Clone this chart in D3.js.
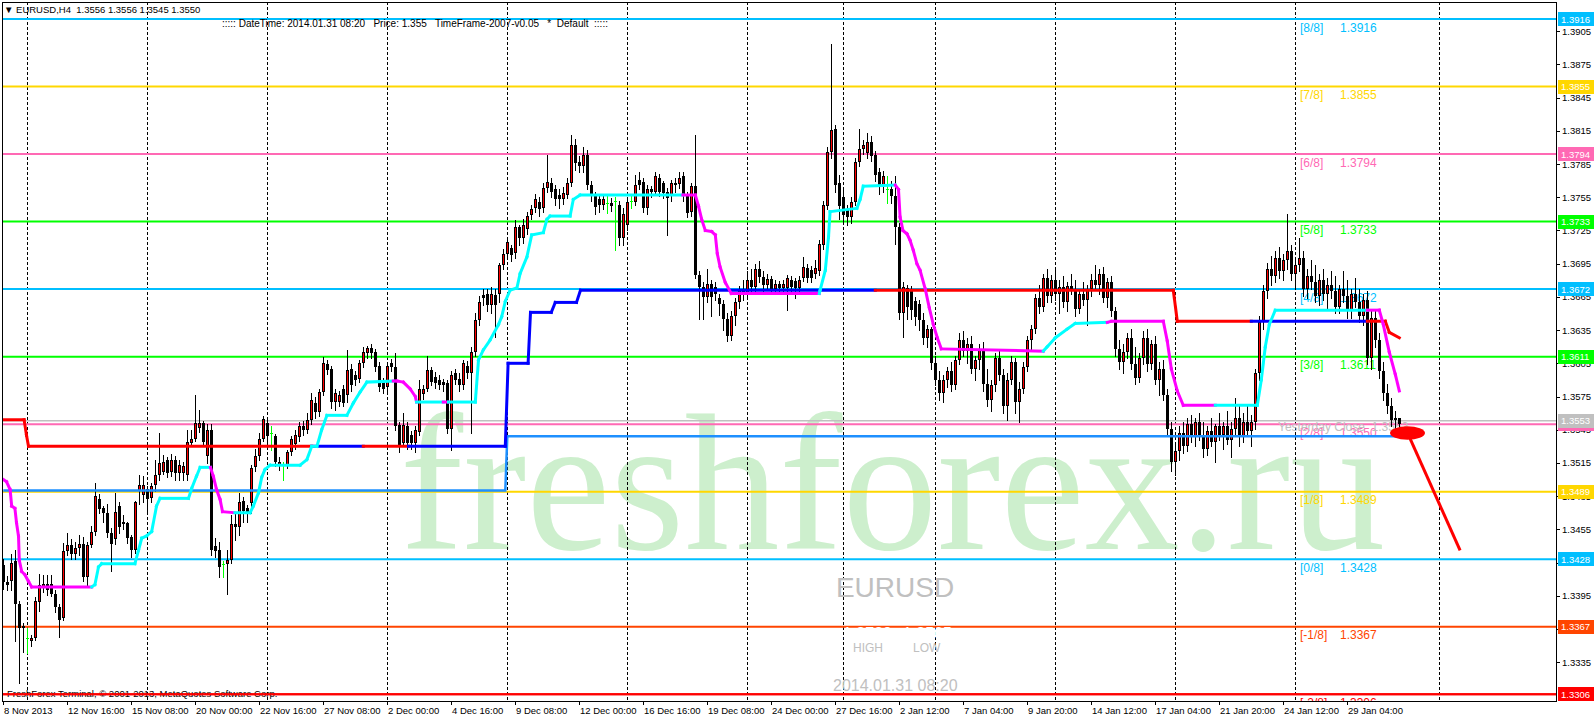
<!DOCTYPE html>
<html>
<head>
<meta charset="utf-8">
<script src="https://cdnjs.cloudflare.com/ajax/libs/d3/7.8.5/d3.min.js"></script>
<style>
  body { margin: 0; background: #fff; }
  svg { display: block; }
  text { font-family: "Liberation Sans", Arial, sans-serif; }
</style>
</head>
<body>
<svg id="chart"></svg>
<script>
// prices are stored as pips above 1.3000 (e.g. 550 -> 1.3550)
var opens = [
  423,407,408,426,388,366,357,354,357,389, 403,406,406,397,385,375,435,441,433,438,
  442,412,441,453,482,474,470,452,446,476, 460,461,448,436,490,486,491,483,495,504,
  507,518,507,518,506,506,504,533,537,547, 551,521,545,440,436,424,424,427,460,457,
  481,474,479,511,521,537,551,542,539,513, 514,512,525,532,538,548,545,554,569,561,
  579,604,600,570,570,582,576,600,594,591, 605,614,619,615,603,588,584,605,602,549,
  533,548,540,533,543,577,582,599,593,590, 588,587,546,596,591,585,603,596,615,644,
  667,668,658,667,668,694,704,709,705,728, 718,726,739,745,751,745,763,768,762,757,
  753,757,768,802,787,783,793,766,756,753, 748,750,750,752,748,718,730,752,751,771,
  769,745,762,760,772,768,760,756,768,767, 774,757,742,765,685,674,665,677,674,664,
  659,645,630,648,660,672,667,680,674,690, 683,676,681,672,677,673,673,680,679,673,
  682,691,689,686,688,712,747,796,817,768, 755,744,737,751,787,799,795,805,793,778,
  766,762,762,756,728,650,673,670,661,659, 644,628,636,605,590,578,590,598,585,608,
  626,616,622,600,608,618,586,572,585,610, 594,566,590,606,570,582,602,626,636,664,
  656,682,666,680,668,674,660,675,672,654, 668,662,672,680,676,686,664,678,652,618,
  606,615,628,604,592,610,628,604,622,590, 600,576,546,516,526,542,530,550,538,552,
  540,528,544,534,548,540,548,536,546,556, 538,552,544,552,596,642,670,690,684,700,
  688,698,706,686,694,700,672,684,678,666, 680,668,676,670,656,672,666,652,668,660,
  648,662,610,646,626,598,578,566,554,556
];
var highs = [
  428,413,433,436,390,370,366,360,394,415, 414,414,414,400,388,443,452,446,444,450,
  448,444,458,497,487,476,478,456,488,480, 468,462,450,481,504,503,494,497,518,542,
  522,520,523,521,518,516,545,545,576,563, 553,550,550,447,444,426,436,468,470,488,
  484,477,513,528,542,557,556,548,541,520, 516,527,539,545,552,553,560,578,575,582,
  611,608,603,582,580,585,617,604,598,608, 620,621,622,618,606,592,605,609,614,552,
  560,552,544,548,590,585,612,602,597,594, 591,590,598,600,596,608,607,620,650,666,
  672,672,674,672,696,708,718,712,734,730, 735,742,748,758,755,768,793,772,766,762,
  764,772,811,808,792,800,798,770,760,757, 758,756,754,755,752,745,754,758,775,778,
  772,766,765,778,776,770,763,771,772,778, 778,760,768,811,688,678,690,680,678,668,
  662,650,652,664,675,680,688,690,695,697, 688,686,684,680,679,680,685,684,682,684,
  701,695,693,698,716,752,800,893,820,775, 762,748,755,790,817,807,813,810,797,781,
  779,774,770,774,732,678,676,675,665,662, 650,640,638,612,598,594,602,606,612,632,
  634,628,630,612,622,624,600,590,614,618, 600,596,612,610,588,606,630,640,668,676,
  686,690,685,690,680,684,678,686,680,672, 678,676,686,694,690,692,682,684,656,626,
  622,632,636,620,614,634,636,626,630,606, 608,582,552,532,548,552,556,558,556,560,
  552,548,556,550,560,552,562,552,574,566, 560,566,558,600,648,676,696,702,706,710,
  704,740,712,698,718,706,690,698,694,686, 690,682,688,684,676,688,680,672,682,672,
  668,670,652,654,632,606,586,574,562,556
];
var lows = [
  401,400,400,354,316,344,343,350,355,381, 398,396,395,380,358,373,432,428,428,432,
  408,405,439,450,470,462,448,417,442,452, 455,443,430,434,478,480,470,480,490,500,
  505,502,503,500,500,500,500,530,535,543, 530,515,432,430,412,412,397,425,445,450,
  462,462,470,508,518,535,535,527,512,509, 500,510,522,528,535,540,542,550,556,557,
  576,595,565,563,566,566,570,580,585,588, 602,610,610,598,580,578,580,598,545,525,
  530,528,528,525,540,573,580,585,583,582, 580,542,527,586,580,582,592,542,612,640,
  658,652,650,629,660,690,700,697,700,712, 714,722,735,742,738,742,760,755,748,745,
  749,754,765,780,778,778,762,752,740,742, 744,741,743,707,712,712,725,745,748,762,
  742,740,755,757,756,754,721,752,760,763, 752,737,738,682,645,645,660,648,662,649,
  635,625,626,640,655,662,664,670,670,678, 670,672,668,668,669,670,653,670,664,669,
  679,678,678,682,685,708,744,790,760,735, 732,730,732,748,783,794,790,788,770,758,
  760,750,750,713,645,629,645,645,640,635, 622,620,600,585,572,570,584,580,582,604,
  612,605,596,590,600,580,566,562,580,590, 560,554,586,560,552,578,598,618,632,650,
  652,660,660,662,650,656,652,668,648,650, 658,640,666,672,668,660,656,648,612,600,
  596,610,600,586,588,604,598,600,586,576, 572,540,508,504,518,524,526,534,530,536,
  520,522,530,516,536,528,532,520,540,530, 534,540,530,546,590,636,664,676,678,682,
  680,690,680,672,688,666,664,672,660,658, 662,654,664,650,650,660,646,646,656,642,
  640,604,600,620,592,572,560,548,546,545
];
var closes = [
  407,405,425,388,366,368,357,357,390,405, 406,400,397,385,373,435,441,433,438,442,
  412,441,453,485,473,470,452,442,471,457, 462,447,436,480,495,495,482,494,504,515,
  516,506,518,506,513,512,534,537,551,551, 534,545,436,435,421,424,427,460,457,480,
  472,471,510,521,537,555,539,542,516,516, 514,525,537,540,548,545,554,572,561,579,
  605,599,570,578,576,569,599,585,590,605, 615,619,614,602,584,582,603,602,548,531,
  549,533,533,545,582,582,599,588,587,585, 585,546,594,590,585,605,596,615,644,660,
  664,658,668,658,694,704,715,703,728,718, 730,738,744,753,744,763,769,760,753,753,
  759,768,802,786,783,793,766,756,746,748, 753,750,747,752,718,740,751,752,766,766,
  745,762,760,774,760,759,754,768,766,772, 756,741,765,685,674,665,677,665,668,659,
  645,630,648,660,672,667,680,674,690,683, 676,681,672,677,673,677,682,674,673,680,
  692,682,682,691,713,748,796,816,766,747, 739,737,751,787,799,802,805,792,775,766,
  774,762,756,728,650,674,656,653,647,644, 628,636,605,590,578,590,598,585,608,626,
  616,622,600,608,618,586,572,585,610,594, 566,590,606,570,582,602,626,636,664,656,
  682,666,680,668,674,660,675,672,654,668, 662,672,680,676,686,664,678,652,618,606,
  615,628,604,592,610,628,604,622,590,600, 576,546,516,526,542,530,550,538,552,540,
  528,544,534,548,540,548,536,546,556,538, 552,544,552,596,642,670,690,684,700,688,
  698,706,686,694,700,672,684,678,666,680, 668,676,670,656,672,666,652,668,660,648,
  662,610,646,626,598,578,566,554,556,550
];

// trend line (cyan when up, magenta when down), vertices: bar, pips, up flag
var trendBars = [0,0.8,1.7,2.1,2.9,3.3,3.8,4.0,4.6,5.4,6.3,7.1,22.1,
  22.9,23.8,24.6,32.9,33.8,34.6,35.8,37.1,38.3,39.2,46.3,47.1,48.3,49.2,51.8,
  52.5,53.3,54.2,54.8,57.9,
  61.7,62.5,63.8,64.6,65.4,66.7,74.2,75.9,77.1,78.4,79.6,80.9,85.9,87.5,89.2,90.9,97.5,
  98.4,100,101.7,103,103.3,
  110,111.3,118,118.8,120,121.7,123.8,124.6,125.5,126.7,128.4,129.2,130.9,132.1,135,135.9,136.7,141.7,142.5,144.2,169.9,
  173,173.8,174.6,175.5,177.1,178,178.5,179.2,180.5,182,204,
  204.2,205.5,206.3,206.7,213.4,214.2,215,223,
  223.8,224.2,224.9,225.9,226.7,227.5,228.4,229.2,230.5,231.5,232.5,233.5,234.5,260,
  261,263,266,268,276,
  277,290,291,292,293.5,295,303,
  313.5,314.5,315.5,316.5,318,341,
  344,345,346.5,348,349];
var trendPips = [500,498,491,476,474,461,449,427,417,414,408,403,403,
  405,421,424,424,436,447,449,453,476,483,483,492,503,511,511,
  503,491,482,471,470,
  470,476,488,502,509,513,513,518,530,530,545,558,558,569,579,588,589,
  589,588,582,575,570,
  570,570,570,608,617,626,640,647,661,671,673,686,701,721,723,735,738,738,753,757,757,
  757,747,735,725,724,721,704,692,678,668,668,
  671,689,719,742,745,753,765,766,
  762,737,725,722,716,707,695,689,672,655,640,628,618,616,
  620,628,636,641,642,
  643,643,625,600,580,567,567,
  567,590,620,640,653,653,
  653,640,615,595,580];
var trendUp = [0,0,0,0,0,0,0,0,0,0,0,0,0,
  1,1,1,1,1,1,1,1,1,1,1,1,1,1,1,
  0,0,0,0,0,
  1,1,1,1,1,1,1,1,1,1,1,1,1,1,1,1,1,
  0,0,0,0,0,
  1,0,1,1,1,1,1,1,1,1,1,1,1,1,1,1,1,1,1,1,1,
  0,0,0,0,0,0,0,0,0,0,0,
  1,1,1,1,1,1,1,1,
  0,0,0,0,0,0,0,0,0,0,0,0,0,0,
  1,1,1,1,1,
  0,0,0,0,0,0,0,
  1,1,1,1,1,1,
  0,0,0,0,0];

// slow stop line (red / blue)
var stopBars = [0,5.2,5.8,6.3,77.1,90,101.3,125.5,126.2,131.2,131.8,137,138,143.3,144.3,218,292.5,293.5,312,341,345.5,346.5,349];
var stopPips = [554,554,540,530,530,530,530,530,605,605,651,651,660,660,671,671,671,643,643,643,643,633,628];
var stopBlue = [0,0,0,0,0,1,0,1,1,1,1,1,1,1,1,1,0,0,0,1,0,0,0];

// thin blue step line
var stepBars = [0,125.5,126,348.5];
var stepPips = [490,490,539,539];

// Murrey levels
var levels = [1.3916,1.3855,1.3794,1.3733,1.3672,1.3611,1.3550,1.3489,1.3428,1.3367,1.3306];
var levelNames = ["[8/8]","[7/8]","[6/8]","[5/8]","[4/8]","[3/8]","[2/8]","[1/8]","[0/8]","[-1/8]","[-2/8]"];
var levelColors = ["#00bfff","#ffd700","#ff69b4","#00ff00","#00bfff","#00ff00","#ff69b4","#ffd700","#00bfff","#ff4500","#ff0000"];
var yesterdayClose = 1.3553;

var priceTicks = [1.3905,1.3875,1.3845,1.3815,1.3785,1.3755,1.3725,1.3695,1.3665,1.3635,1.3605,1.3575,1.3545,1.3515,1.3485,1.3455,1.3425,1.3395,1.3365,1.3335];
var timeLabels = ["8 Nov 2013","12 Nov 16:00","15 Nov 08:00","20 Nov 00:00","22 Nov 16:00","27 Nov 08:00","2 Dec 00:00","4 Dec 16:00","9 Dec 08:00","12 Dec 00:00","16 Dec 16:00","19 Dec 08:00","24 Dec 00:00","27 Dec 16:00","2 Jan 12:00","7 Jan 04:00","9 Jan 20:00","14 Jan 12:00","17 Jan 04:00","21 Jan 20:00","24 Jan 12:00","29 Jan 04:00"];
var timeLabelBars = [0,16,32,48,64,80,96,112,128,144,160,176,192,208,224,240,256,272,288,304,320,336];
var weekBars = [6,36,66,96,126,156,186,210,233,263,293,323,359];

// forecast mark
var arrowBars = [351.7,364.2];
var arrowPips = [537,436];
var markBar = 351.05, markPip = 542;

var W = 1596, H = 720;
var plot = {left: 2, top: 2, right: 1556, bottom: 701};
var toPrice = function(v) { return 1.3 + v / 10000; };

var x = d3.scaleLinear().domain([0, 349]).range([3.3, 3.3 + 4 * 349]);
var y = d3.scaleLinear().domain([1.3306, 1.3916]).range([694.3, 19]);

var svg = d3.select("#chart").attr("width", W).attr("height", H);
svg.append("rect").attr("width", W).attr("height", H).attr("fill", "#fff");

svg.append("defs").append("clipPath").attr("id", "plotclip")
  .append("rect")
    .attr("x", plot.left).attr("y", plot.top)
    .attr("width", plot.right - plot.left).attr("height", plot.bottom - plot.top);

var g = svg.append("g").attr("clip-path", "url(#plotclip)");

// watermark
g.append("text")
  .attr("x", 400).attr("y", 549)
  .attr("textLength", 985).attr("lengthAdjust", "spacingAndGlyphs")
  .style("font-family", "'Liberation Serif', 'Times New Roman', serif")
  .style("font-size", "196px")
  .attr("fill", "#cdefcd")
  .text("freshforex.ru");

// weekly separators
g.selectAll(".week").data(weekBars).enter().append("line")
  .attr("x1", d => Math.round(x(d)) + 0.5).attr("x2", d => Math.round(x(d)) + 0.5)
  .attr("y1", plot.top).attr("y2", plot.bottom)
  .attr("stroke", "#000").attr("stroke-dasharray", "3,2").attr("stroke-width", 1);

// level lines
g.selectAll(".lvl").data(levels).enter().append("line")
  .attr("x1", plot.left).attr("x2", plot.right)
  .attr("y1", d => y(d)).attr("y2", d => y(d))
  .attr("stroke", (d, i) => levelColors[i]).attr("stroke-width", 2);

g.append("line")
  .attr("x1", plot.left).attr("x2", plot.right)
  .attr("y1", y(yesterdayClose)).attr("y2", y(yesterdayClose))
  .attr("stroke", "#c0c0c0").attr("stroke-width", 1.5);

// level labels
var lab = g.append("g").style("font-size", "12px");
lab.selectAll(".ln").data(levels).enter().append("text")
  .attr("x", 1300).attr("y", d => y(d) + 12.5)
  .attr("fill", (d, i) => levelColors[i])
  .text((d, i) => levelNames[i]);
lab.selectAll(".lv").data(levels).enter().append("text")
  .attr("x", 1340).attr("y", d => y(d) + 12.5)
  .attr("fill", (d, i) => levelColors[i])
  .text(d => d.toFixed(4));
lab.append("text")
  .attr("x", 1278).attr("y", y(yesterdayClose) + 10)
  .attr("fill", "#c0c0c0")
  .style("white-space", "pre")
  .text("Yesterday Close  " + yesterdayClose.toFixed(4));

// info texts
g.append("text").attr("x", 895).attr("y", 597).attr("text-anchor", "middle")
  .style("font-size", "28px").attr("fill", "#c0c0c0").text("EURUSD");
g.append("text").attr("x", 843).attr("y", 639)
  .style("font-size", "16px").attr("fill", "#fff").text("1.3739");
g.append("text").attr("x", 903).attr("y", 639)
  .style("font-size", "16px").attr("fill", "#fff").text("1.3505");
g.append("text").attr("x", 853).attr("y", 652)
  .style("font-size", "12px").attr("fill", "#c0c0c0").text("HIGH");
g.append("text").attr("x", 913).attr("y", 652)
  .style("font-size", "12px").attr("fill", "#c0c0c0").text("LOW");
g.append("text").attr("x", 833).attr("y", 691)
  .style("font-size", "16px").attr("fill", "#c0c0c0").text("2014.01.31 08:20");
g.append("text").attr("x", 222).attr("y", 27)
  .style("font-size", "10px").style("white-space", "pre").attr("fill", "#000")
  .text("::::: DateTime: 2014.01.31 08:20   Price: 1.355   TimeFrame-2007-v0.05   *  Default  :::::");

// candles
var bars = closes.map((c, i) => ({i: i, o: opens[i], h: highs[i], l: lows[i], c: c}));
var cg = g.append("g");
bars.forEach(function(d) {
  var cx = Math.round(x(d.i));
  var doji = d.o === d.c;
  var col = doji ? "#00ff00" : "#000";
  cg.append("line")
    .attr("x1", cx + 0.5).attr("x2", cx + 0.5)
    .attr("y1", Math.round(y(toPrice(d.h)))).attr("y2", Math.round(y(toPrice(d.l))) + 1)
    .attr("stroke", col).attr("stroke-width", 1);
  if (doji) {
    var yy = Math.round(y(toPrice(d.o)));
    cg.append("rect").attr("x", cx - 1).attr("y", yy).attr("width", 3).attr("height", 1).attr("fill", col);
    return;
  }
  var top = Math.round(y(toPrice(Math.max(d.o, d.c))));
  var bot = Math.round(y(toPrice(Math.min(d.o, d.c))));
  var hgt = Math.max(1, bot - top);
  cg.append("rect").attr("x", cx - 1).attr("y", top).attr("width", 3).attr("height", hgt).attr("fill", "#000");
  if (d.c > d.o && hgt > 2) {
    cg.append("rect").attr("x", cx).attr("y", top + 1).attr("width", 1).attr("height", hgt - 2).attr("fill", "#ff0000");
  }
});

// thin step line
var lineGen = d3.line().x(d => x(d[0])).y(d => y(toPrice(d[1])));
g.append("path")
  .attr("d", lineGen(stepBars.map((b, i) => [b, stepPips[i]])))
  .attr("fill", "none").attr("stroke", "#1e90ff").attr("stroke-width", 2.5);

// segmented coloured lines
function drawSegments(bs, ps, flags, upColor, downColor, width) {
  for (var i = 1; i < bs.length; i++) {
    g.append("path")
      .attr("d", lineGen([[bs[i - 1], ps[i - 1]], [bs[i], ps[i]]]))
      .attr("fill", "none")
      .attr("stroke", flags[i] ? upColor : downColor)
      .attr("stroke-width", width)
      .attr("stroke-linecap", "square");
  }
}
drawSegments(stopBars, stopPips, stopBlue, "#0000ff", "#ff0000", 3);
drawSegments(trendBars, trendPips, trendUp, "#00ffff", "#ff00ff", 3);

// forecast mark
svg.append("ellipse")
  .attr("cx", x(markBar)).attr("cy", y(toPrice(markPip)))
  .attr("rx", 17.5).attr("ry", 6.7).attr("fill", "#ff0000");
svg.append("path")
  .attr("d", lineGen(arrowBars.map((b, i) => [b, arrowPips[i]])))
  .attr("stroke", "#ff0000").attr("stroke-width", 3).attr("fill", "none");

// copyright & header
svg.append("text").attr("x", 7).attr("y", 697)
  .style("font-size", "9.5px").attr("fill", "#000")
  .text("FreshForex Terminal, \u00a9 2001-2013, MetaQuotes Software Corp.");
svg.append("line").attr("x1", plot.left).attr("x2", plot.right)
  .attr("y1", y(1.3306)).attr("y2", y(1.3306)).attr("stroke", "#ff0000").attr("stroke-width", 2);
svg.append("text").attr("x", 4).attr("y", 13)
  .style("font-size", "9.5px").style("white-space", "pre").attr("fill", "#000")
  .text("\u25bc EURUSD,H4  1.3556 1.3556 1.3545 1.3550");

// frame
svg.append("rect")
  .attr("x", plot.left + 0.5).attr("y", plot.top + 0.5)
  .attr("width", plot.right - plot.left).attr("height", plot.bottom - plot.top)
  .attr("fill", "none").attr("stroke", "#000").attr("stroke-width", 1);

// price axis
var ax = svg.append("g").style("font-size", "9.5px");
ax.selectAll(".tk").data(priceTicks).enter().append("line")
  .attr("x1", plot.right).attr("x2", plot.right + 4)
  .attr("y1", d => Math.round(y(d)) + 0.5).attr("y2", d => Math.round(y(d)) + 0.5)
  .attr("stroke", "#000");
ax.selectAll(".tl").data(priceTicks).enter().append("text")
  .attr("x", plot.right + 6).attr("y", d => y(d) + 3.5)
  .attr("fill", "#000").text(d => d.toFixed(4));

var boxes = levels.map((v, i) => ({v: v, c: levelColors[i]}));
boxes.push({v: yesterdayClose, c: "#c0c0c0"});
var bx = ax.selectAll(".bx").data(boxes).enter().append("g");
bx.append("rect")
  .attr("x", plot.right + 2).attr("y", d => Math.round(y(d.v)) - 7)
  .attr("width", 36).attr("height", 14).attr("fill", d => d.c);
bx.append("text")
  .attr("x", plot.right + 5).attr("y", d => y(d.v) + 3.5)
  .attr("fill", "#fff").text(d => d.v.toFixed(4));

// time axis
var tx = svg.append("g").style("font-size", "9.5px");
tx.selectAll(".tt").data(timeLabelBars).enter().append("line")
  .attr("x1", d => Math.round(x(d)) + 0.5).attr("x2", d => Math.round(x(d)) + 0.5)
  .attr("y1", plot.bottom).attr("y2", plot.bottom + 4)
  .attr("stroke", "#000");
tx.selectAll(".tl").data(timeLabelBars).enter().append("text")
  .attr("x", d => Math.round(x(d)) + 1).attr("y", plot.bottom + 13)
  .attr("fill", "#000").text((d, i) => timeLabels[i]);
</script>
</body>
</html>
